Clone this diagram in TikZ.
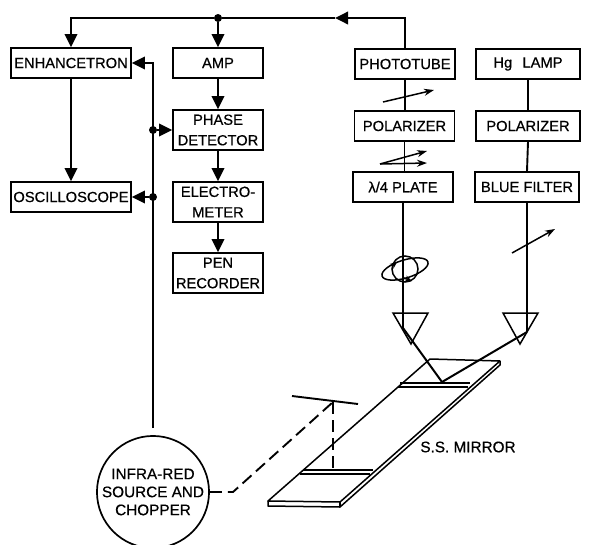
\documentclass[tikz,border=0pt]{standalone}
\usepackage{fontspec}
\setmainfont[FakeBold=0.6]{Liberation Sans}
\usetikzlibrary{arrows.meta}
\newfontfamily\plainlett[FakeBold=0.6]{Liberation Sans}
\tikzset{
  boxn/.style={draw=black,line width=1.7pt,fill=white,align=center,inner sep=0pt,font=\plainlett\fontsize{14.7}{20.5}\selectfont,text=black},
  wire/.style={line width=1.9pt,draw=black},
  flow/.style={wire,-{Triangle[length=13pt,width=12.5pt]}},
  jdot/.style={circle,fill=black,inner sep=0pt,minimum size=8pt},
  pol/.style={line width=1.5pt,-{Stealth[length=10pt,width=7pt]}},
  ir/.style={line width=1.9pt,dash pattern=on 12pt off 6pt},
  thin mirror/.style={line width=1.5pt,line join=round},
}
\begin{document}
\begin{tikzpicture}[x=1pt,y=-1pt]
\useasboundingbox (0,0) rectangle (600,544);
\clip (0,0) rectangle (600,544);
\fill[white] (0,0) rectangle (600,544);
% boxes
\node[boxn,minimum width=120pt,minimum height=30pt] (enh) at (71,63) {ENHANCETRON};
\node[boxn,minimum width=120pt,minimum height=30pt] (osc) at (71,197) {OSCILLOSCOPE};
\node[boxn,minimum width=90pt,minimum height=30pt] (amp) at (218,63) {AMP};
\node[boxn,minimum width=90pt,minimum height=40pt] (pha) at (218,130) {PHASE\\DETECTOR};
\node[boxn,minimum width=90pt,minimum height=40pt] (ele) at (218,202) {ELECTRO-\\METER};
\node[boxn,minimum width=90pt,minimum height=40pt] (pen) at (218,273) {PEN\\RECORDER};
\node[boxn,minimum width=100pt,minimum height=30pt] (pho) at (405,64) {PHOTOTUBE};
\node[boxn,minimum width=100pt,minimum height=30pt] (po1) at (404.5,126) {POLARIZER};
\node[boxn,minimum width=100pt,minimum height=30pt] (qwp) at (403,187) {λ/4 PLATE};
\node[boxn,minimum width=104pt,minimum height=30pt] (hg) at (528,64) {Hg\hspace{0.7em}LAMP};
\node[boxn,minimum width=104pt,minimum height=30pt] (po2) at (528,126) {POLARIZER};
\node[boxn,minimum width=104pt,minimum height=30pt] (blu) at (527,187) {BLUE FILTER};
\node[circle,draw=black,line width=1.7pt,inner sep=0pt,minimum size=110pt,align=center,font=\plainlett\fontsize{15.3}{18}\selectfont] (src) at (153,492) {INFRA-RED\\SOURCE AND\\CHOPPER};
\node[font=\plainlett\fontsize{15.3}{18}\selectfont,inner sep=0pt] (lab) at (468,447) {S.S. MIRROR};
% junctions
\node[jdot] (j1) at (218,18) {};
\node[jdot] (j2) at (153,130) {};
\node[jdot] (j3) at (153,197) {};
\coordinate (k) at (335,18);
% top wiring
\draw[flow] (pho.north) |- (k);
\draw[wire] (k) -- (j1);
\draw[flow] (j1) -| (enh.north);
\draw[flow] (j1) -- (amp.north);
\draw[flow] (amp.south) -- (pha.north);
\draw[flow] (pha.south) -- (ele.north);
\draw[flow] (ele.south) -- (pen.north);
\draw[flow] (enh.south) -- (osc.north);
\draw[flow,shorten <=7pt] (src.north) |- (enh.east);
\draw[flow] (j2) -- (pha.west);
\draw[flow] (j3) -- (osc.east);
% optical train
\draw[wire] (pho.south) -- (pho.south |- po1.north);
\draw[wire] (po1.south) -- (po1.south |- qwp.north);
\draw[wire] (hg.south) -- (po2.north);
\draw[wire] (po2.south) -- (blu.north);
\coordinate (r1) at (403,328);
\coordinate (r2) at (442,382);
\coordinate (r3) at (527,332);
\draw[wire] (qwp.south) -- (r1);
\draw[wire] (blu.south) -- (r3);
% polarisation marks
\draw[pol] (383,102) -- (434,90);
\draw[pol] (380,164) -- (427,151);
\draw[pol] (380,164) -- (427,163);
\draw[pol] (512,253) -- (555,229);
\draw[line width=1.5pt] (405,269) circle (13pt);
\draw[line width=1.5pt,rotate around={17:(405,269)}] (405,269) ellipse (24pt and 9pt);
\draw[line width=1.5pt,-{Stealth[length=7pt,width=6pt]}] (392,266) -- (397,262);
\draw[line width=1.5pt,-{Stealth[length=7pt,width=6pt]}] (404,278) -- (412,281);
% prisms
\draw[line width=1.5pt,line join=miter] (393,313) -- (428,313) -- (411,344) -- cycle;
\draw[line width=1.5pt,line join=miter] (503,313) -- (538,313) -- (520,344) -- cycle;
% mirror
\coordinate (m1) at (268,501);
\coordinate (m2) at (340,502);
\coordinate (m3) at (500,361);
\coordinate (m4) at (430,359);
\draw[thin mirror] (m1) -- (m2) -- (m3) -- (m4) -- cycle;
\draw[thin mirror] (m1) -- (268,506) -- (340,507) -- (500,365) -- (m3);
\draw[thin mirror] (m2) -- (340,507);
\draw[thin mirror] (400,383) -- (470,383);
\draw[line width=1.8pt] (398,387) -- (468,387);
\draw[thin mirror] (303,470) -- (373,470);
\draw[line width=1.8pt] (300,474) -- (370,474);
% beam
\draw[line width=2pt,line join=miter] (r1) -- (r2) -- (r3);
% infra-red path
\coordinate (t1) at (292,396);
\coordinate (t2) at (358,404);
\coordinate (t3) at (333,402);
\draw[line width=1.9pt] (t1) -- (t2);
\draw[ir] (src.east) -- (233,492) -- (t3);
\draw[ir] (t3) -- (333,470);
\end{tikzpicture}
\end{document}
